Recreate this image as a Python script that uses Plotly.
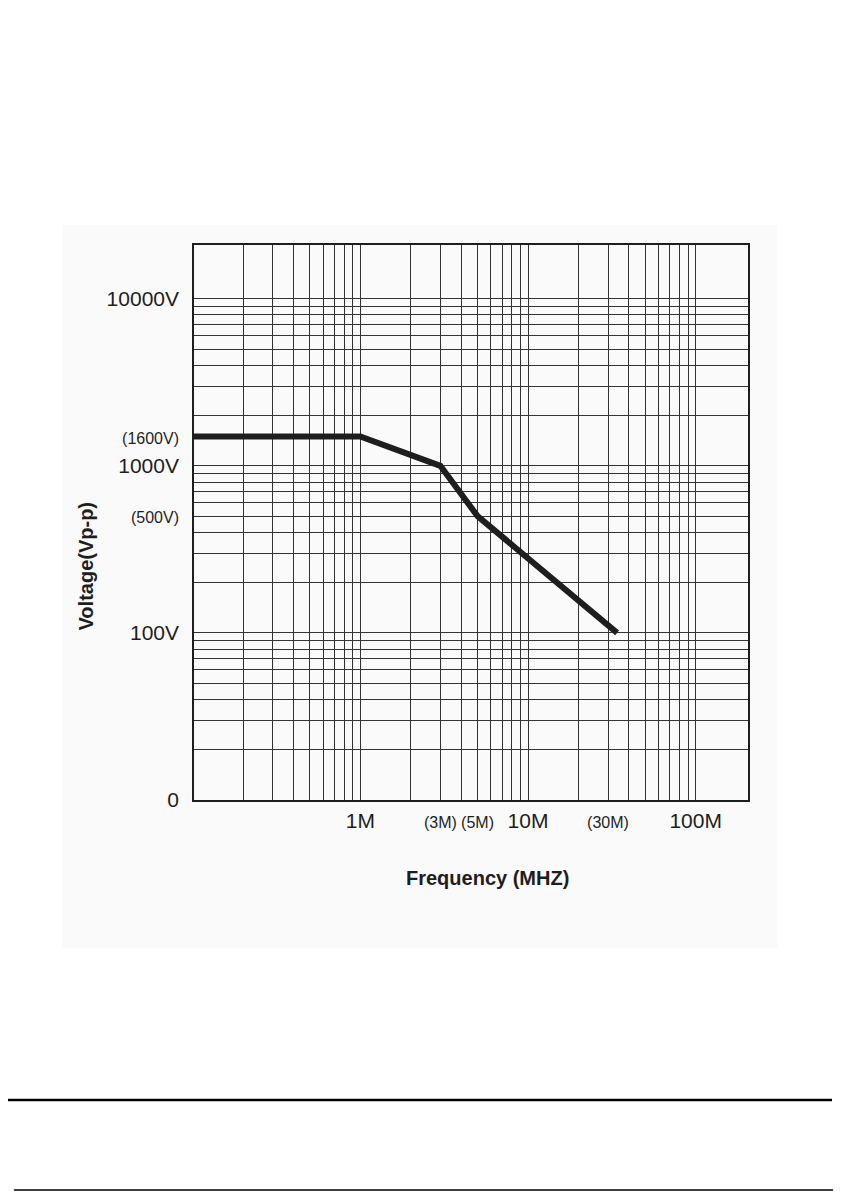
import plotly.graph_objects as go

# ---- data ----
freq_mhz = [0.1, 1, 3, 5, 34]
voltage_vpp = [1500, 1500, 1000, 500, 100]

x_tick_vals = [1, 3, 5, 10, 30, 100]
x_tick_text = ["1M", "(3M)", "(5M)", "10M", "(30M)", "100M"]
x_tick_small = [False, True, True, False, True, False]

y_tick_vals = [10, 100, 500, 1000, 1500, 10000]
y_tick_text = ["0", "100V", "(500V)", "1000V", "(1600V)", "10000V"]
y_tick_small = [False, False, True, False, True, False]

x_title = "Frequency (MHZ)"
y_title = "Voltage(Vp-p)"

# ---- grid values (log grid 1..9 per decade) ----
x_grid = [m * 10 ** e for e in (-1, 0, 1) for m in range(1, 10)] + [100]
y_grid = [m * 10 ** e for e in (1, 2, 3) for m in range(1, 10)] + [10000]

X_RANGE = [-0.992, 2.312]
Y_RANGE = [0.9995, 4.322]

FONT = "Liberation Sans, Arial, sans-serif"
INK = "#1e1e1e"

# page body has an 8px margin -> figure is 8px smaller, shifted
OFF = 8
W, H = 841 - OFF, 1191 - OFF
L, R, T, B = 194 - OFF, 841 - 748, 245 - OFF, 1191 - 800
PW, PH = W - L - R, H - T - B


def fmt(texts, small):
    return [f'<span style="font-size:16px">{t}</span>' if s else t
            for t, s in zip(texts, small)]


def px_x(px):  # reference pixel -> paper x
    return (px - OFF - L) / PW


def px_y(py):  # reference pixel -> paper y
    return (H - B - (py - OFF)) / PH


fig = go.Figure()
# helper so that the grid axes are drawn (invisible)
fig.add_trace(go.Scatter(
    x=freq_mhz, y=voltage_vpp, xaxis="x", yaxis="y",
    mode="lines", line=dict(color="rgba(0,0,0,0)", width=1),
    hoverinfo="skip", showlegend=False,
))
fig.add_trace(go.Scatter(
    x=freq_mhz, y=voltage_vpp, xaxis="x2", yaxis="y2",
    mode="lines", line=dict(color=INK, width=6),
    hoverinfo="skip", showlegend=False,
))

grid_axis = dict(
    type="log", showticklabels=False, ticks="", showgrid=True,
    gridcolor="#333333", gridwidth=1, zeroline=False,
    showline=True, mirror=True, linecolor=INK, linewidth=2,
    tickmode="array", fixedrange=True,
)

fig.update_layout(
    width=W, height=H,
    margin=dict(l=L, r=R, t=T, b=B, pad=0),
    paper_bgcolor="white", plot_bgcolor="white",
    showlegend=False,
    xaxis=dict(grid_axis, range=X_RANGE, tickvals=x_grid),
    yaxis=dict(grid_axis, range=Y_RANGE, tickvals=y_grid),
    xaxis2=dict(
        type="log", overlaying="x", side="bottom", anchor="y2",
        range=X_RANGE, showgrid=False, zeroline=False, showline=False,
        tickmode="array", tickvals=x_tick_vals, ticktext=fmt(x_tick_text, x_tick_small),
        ticks="", ticklabelstandoff=6,
        tickfont=dict(family=FONT, size=21, color=INK), fixedrange=True,
    ),
    yaxis2=dict(
        type="log", overlaying="y", side="left", anchor="x2",
        range=Y_RANGE, showgrid=False, zeroline=False, showline=False,
        tickmode="array", tickvals=y_tick_vals, ticktext=fmt(y_tick_text, y_tick_small),
        ticks="", ticklabelstandoff=14,
        tickfont=dict(family=FONT, size=21, color=INK), fixedrange=True,
    ),
    annotations=[
        dict(text=f"<b>{y_title}</b>", xref="paper", yref="paper",
             x=px_x(85.5), y=px_y(566), textangle=-90, showarrow=False,
             xanchor="center", yanchor="middle",
             font=dict(family=FONT, size=20, color=INK)),
        dict(text=f"<b>{x_title}</b>", xref="paper", yref="paper",
             x=px_x(487), y=px_y(878), showarrow=False,
             xanchor="center", yanchor="middle",
             font=dict(family=FONT, size=20, color=INK)),
    ],
    shapes=[
        dict(type="rect", xref="paper", yref="paper", layer="below",
             x0=px_x(62), x1=px_x(777), y0=px_y(948), y1=px_y(225),
             fillcolor="#fafafa", line=dict(width=0)),
        dict(type="line", xref="paper", yref="paper",
             x0=px_x(4), x1=px_x(832), y0=px_y(1100), y1=px_y(1100),
             line=dict(color="black", width=2.5)),
        dict(type="line", xref="paper", yref="paper",
             x0=px_x(14), x1=px_x(841), y0=px_y(1190), y1=px_y(1190),
             line=dict(color="black", width=1.5)),
    ],
)

fig.write_html("out.html")
